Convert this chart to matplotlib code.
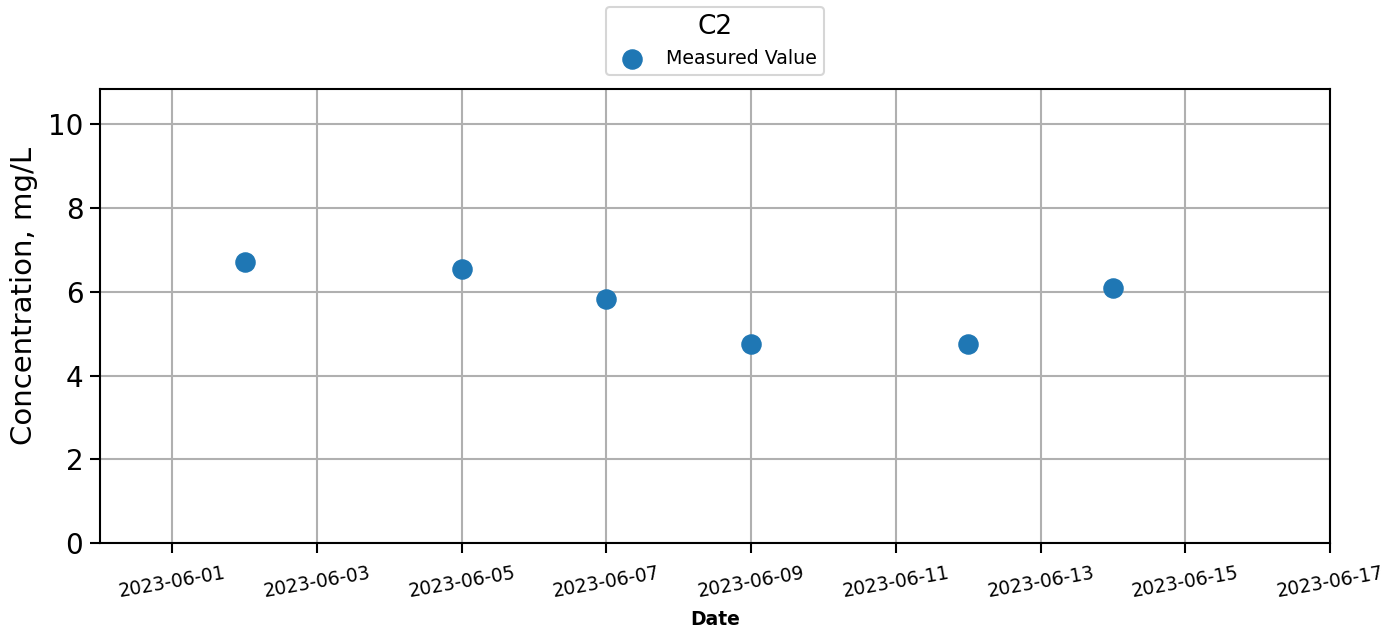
import matplotlib
matplotlib.use("Agg")
import matplotlib.pyplot as plt
import matplotlib.dates as mdates
import pandas as pd

dates = ["2023-06-02", "2023-06-05", "2023-06-07", "2023-06-09", "2023-06-12", "2023-06-14"]
values = [6.72, 6.55, 5.83, 4.75, 4.75, 6.10]
series_label = "Measured Value"
legend_title = "C2"

x = pd.to_datetime(dates)

fig = plt.figure(figsize=(14, 6.3), dpi=100)
ax = fig.add_axes([0.0714, 0.138, 0.8786, 0.721])
ax.scatter(x, values, s=190, color="#1f77b4", label=series_label, zorder=3)

ax.set_xlim(pd.Timestamp("2023-05-31"), pd.Timestamp("2023-06-17"))
ax.set_ylim(0, 10.85)
ax.xaxis.set_major_locator(mdates.DayLocator(bymonthday=[1, 3, 5, 7, 9, 11, 13, 15, 17]))
ax.xaxis.set_major_formatter(mdates.DateFormatter("%Y-%m-%d"))
ax.set_yticks([0, 2, 4, 6, 8, 10])
ax.grid(True, color="#b0b0b0", linewidth=1.5)
ax.set_axisbelow(True)
ax.tick_params(axis="y", labelsize=20, length=7, width=1.5, pad=5)
ax.tick_params(axis="x", labelsize=13.5, length=7, width=1.5, labelrotation=10, pad=8)
for lbl in ax.get_xticklabels():
    lbl.set_ha("center")
for sp in ax.spines.values():
    sp.set_linewidth(1.5)
ax.set_ylabel("Concentration, mg/L", fontsize=21)
ax.yaxis.set_label_coords(-0.050, 0.545)
ax.set_xlabel("Date", fontsize=13.5, fontweight="bold", labelpad=6)

leg = ax.legend(loc="lower center", bbox_to_anchor=(0.5, 1.01), title=legend_title,
                fontsize=13.7, title_fontsize=19, frameon=True, borderpad=0.35,
                handletextpad=0.8)
leg.get_frame().set_linewidth(1.5)

fig.savefig("out.png", dpi=100)
